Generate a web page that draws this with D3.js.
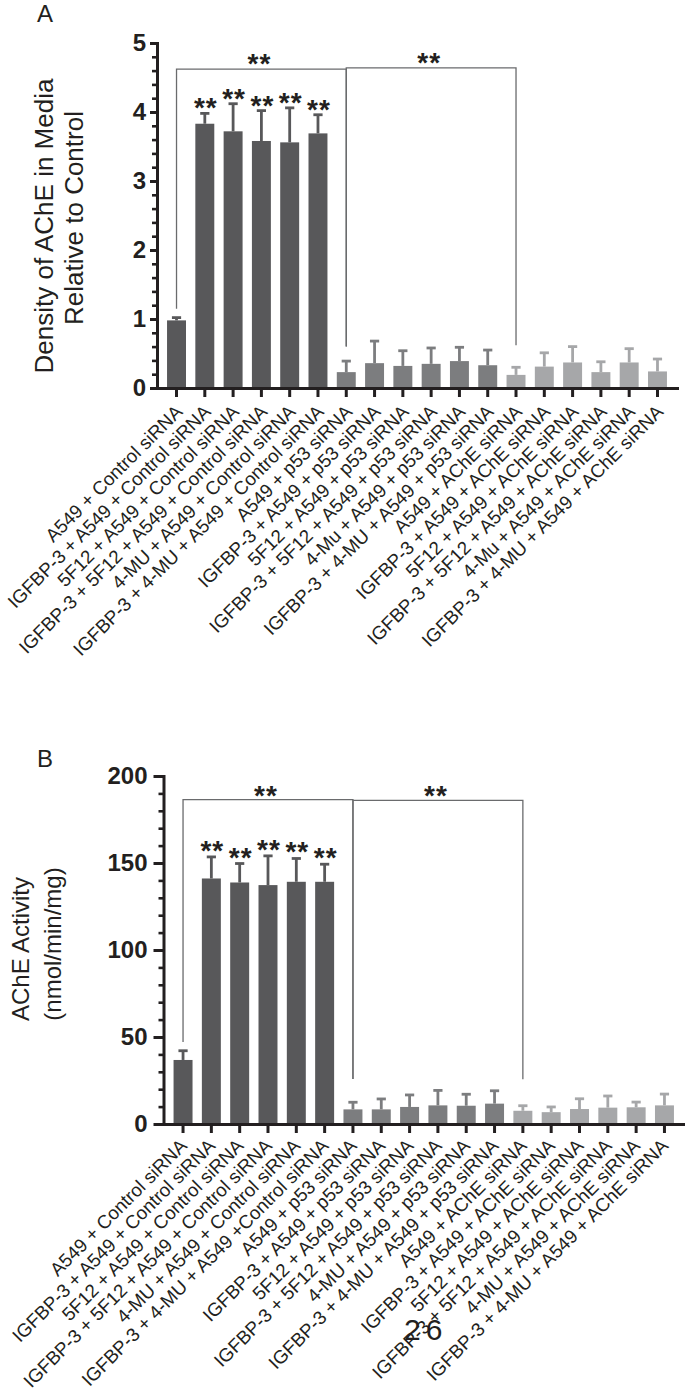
<!DOCTYPE html>
<html><head><meta charset="utf-8">
<script src="https://cdn.jsdelivr.net/npm/d3@7"></script>
<style>
body{margin:0;background:#fff}
svg{display:block}
text{font-family:"Liberation Sans",Arial,Helvetica,sans-serif;fill:#231f20}
</style>
</head><body>
<svg id="chart" width="685" height="1399"></svg>
<script>
// ---------------- data ----------------
const categoriesA = [
  "A549 + Control siRNA",
  "IGFBP-3 + A549 + Control siRNA",
  "5F12 + A549 + Control siRNA",
  "IGFBP-3 + 5F12 + A549 + Control siRNA",
  "4-MU + A549 + Control siRNA",
  "IGFBP-3 + 4-MU + A549 + Control siRNA",
  "A549 + p53 siRNA",
  "IGFBP-3 + A549 + p53 siRNA",
  "5F12 + A549 + p53 siRNA",
  "IGFBP-3 + 5F12 + A549 + p53 siRNA",
  "4-Mu + A549 + p53 siRNA",
  "IGFBP-3 + 4-MU + A549 + p53 siRNA",
  "A549 + AChE siRNA",
  "IGFBP-3 + A549 + AChE siRNA",
  "5F12 + A549 + AChE siRNA",
  "IGFBP-3 + 5F12 + A549 + AChE siRNA",
  "4-Mu + A549 + AChE siRNA",
  "IGFBP-3 + 4-MU + A549 + AChE siRNA"
];
const categoriesB = [
  "A549 + Control siRNA",
  "IGFBP-3 + A549 + Control siRNA",
  "5F12 + A549 + Control siRNA",
  "IGFBP-3 + 5F12 + A549 + Control siRNA",
  "4-MU + A549 + Control siRNA",
  "IGFBP-3 + 4-MU + A549 +Control siRNA",
  "A549 + p53 siRNA",
  "IGFBP-3 + A549 + p53 siRNA",
  "5F12 + A549 + p53 siRNA",
  "IGFBP-3 + 5F12 + A549 + p53 siRNA",
  "4-MU + A549 + p53 siRNA",
  "IGFBP-3 + 4-MU + A549 + p53 siRNA",
  "A549 + AChE siRNA",
  "IGFBP-3 + A549 + AChE siRNA",
  "5F12 + A549 + AChE siRNA",
  "IGFBP-3 + 5F12 + A549 + AChE siRNA",
  "4-MU + A549 + AChE siRNA",
  "IGFBP-3 + 4-MU + A549 + AChE siRNA"
];
const groupOf = [0,0,0,0,0,0,1,1,1,1,1,1,2,2,2,2,2,2];

const meanA  = [0.98, 3.83, 3.72, 3.58, 3.56, 3.69, 0.23, 0.36, 0.32, 0.35, 0.39, 0.33, 0.19, 0.31, 0.37, 0.23, 0.37, 0.24];
const upperA = [1.02, 3.98, 4.12, 4.02, 4.06, 3.96, 0.39, 0.68, 0.54, 0.58, 0.59, 0.55, 0.30, 0.51, 0.60, 0.38, 0.57, 0.42];

const meanB  = [36.8, 141.1, 138.8, 137.3, 139.2, 139.2, 8.4, 8.4, 9.8, 10.7, 10.5, 11.7, 7.6, 6.8, 8.6, 9.4, 9.6, 10.7];
const upperB = [42.1, 153.5, 149.7, 154.1, 152.6, 149.3, 12.5, 14.4, 16.7, 19.3, 17.1, 19.1, 10.5, 9.8, 14.5, 16.1, 12.6, 17.2];

const yTicksA = [0, 1, 2, 3, 4, 5];
const yTicksB = [0, 50, 100, 150, 200];
const starredBars = [1, 2, 3, 4, 5];
// [from index, to index, top value, left leg end value, right leg end value]
const bracketsA = [[0, 6, 4.62, 1.15, 0.60], [6, 12, 4.64, 0.60, 0.62]];
const bracketsB = [[0, 6, 186.4, 47.1, 25.9], [6, 12, 186.0, 25.9, 25.7]];
const groupColors = ["#58585a", "#7c7d7f", "#a6a7a9"];

// ---------------- drawing ----------------
const svg = d3.select("#chart");

function drawPanel(o) {
  const g = svg.append("g");
  const x = d3.scaleBand().domain(o.cats).range(o.xRange).paddingInner(0.33).paddingOuter(0.355);
  const y = d3.scaleLinear().domain(o.yDomain).range(o.yRange);
  const cx = c => x(c) + x.bandwidth() / 2;

  // brackets
  o.brackets.forEach(b => {
    const x0 = cx(o.cats[b[0]]), x1 = cx(o.cats[b[1]]);
    g.append("path")
      .attr("d", `M${x0},${y(b[3])}V${y(b[2])}H${x1}V${y(b[4])}`)
      .attr("fill", "none").attr("stroke", "#6a6b6d").attr("stroke-width", 1.3);
    g.append("text").attr("x", (x0 + x1) / 2 - 2).attr("y", y(b[2]) + o.bracketStarShift)
      .attr("text-anchor", "middle").attr("font-size", 28).attr("font-weight", "bold")
      .attr("letter-spacing", 1).text("**");
  });

  // bars
  g.selectAll("rect.bar").data(o.cats).join("rect").attr("class", "bar")
    .attr("x", c => x(c)).attr("width", x.bandwidth())
    .attr("y", (c, i) => y(o.mean[i])).attr("height", (c, i) => y(0) - y(o.mean[i]))
    .attr("fill", (c, i) => groupColors[groupOf[i]]);

  // error bars
  const eb = g.selectAll("g.err").data(o.cats).join("g").attr("class", "err")
    .attr("stroke", (c, i) => groupColors[groupOf[i]]).attr("stroke-width", 2.8);
  eb.append("line").attr("x1", cx).attr("x2", cx)
    .attr("y1", (c, i) => y(o.mean[i])).attr("y2", (c, i) => y(o.upper[i]));
  eb.append("line").attr("x1", c => cx(c) - 4.6).attr("x2", c => cx(c) + 4.6)
    .attr("y1", (c, i) => y(o.upper[i])).attr("y2", (c, i) => y(o.upper[i]));

  // stars over bars
  o.stars.forEach(i => {
    g.append("text").attr("x", cx(o.cats[i]) + 1).attr("y", y(o.upper[i]) + o.barStarShift)
      .attr("text-anchor", "middle").attr("font-size", 28).attr("font-weight", "bold")
      .attr("letter-spacing", 1).text("**");
  });

  // x axis
  const xa = g.append("g").attr("transform", `translate(0,${y(0)})`)
    .call(d3.axisBottom(x).tickSize(9).tickSizeOuter(0).tickFormat(""));
  xa.select(".domain").attr("stroke", "#231f20").attr("stroke-width", 3).attr("stroke-linecap", "square");
  xa.selectAll(".tick line").attr("stroke", "#231f20").attr("stroke-width", 3);

  // x labels
  g.selectAll("text.xl").data(o.cats).join("text").attr("class", "xl")
    .attr("transform", c => `translate(${cx(c) + o.labDx},${y(0) + o.labDy}) rotate(-45)`)
    .attr("text-anchor", "end").attr("font-size", 18.8).text(c => c);

  // y axis minor
  const ya2 = g.append("g").attr("transform", `translate(${o.xRange[0]},0)`)
    .call(d3.axisLeft(y).tickValues(d3.range(o.yDomain[0], o.yDomain[1] + 1e-9, o.minorStep)).tickSize(5).tickFormat(""));
  ya2.select(".domain").remove();
  ya2.selectAll(".tick line").attr("stroke", "#231f20").attr("stroke-width", 2.6);

  // y axis major
  const ya = g.append("g").attr("transform", `translate(${o.xRange[0]},0)`)
    .call(d3.axisLeft(y).tickValues(o.yTicks).tickFormat(d3.format("d"))
      .tickSize(o.majorLen).tickSizeOuter(0).tickPadding(o.tickPad));
  ya.select(".domain").attr("stroke", "#231f20").attr("stroke-width", 3).attr("stroke-linecap", "square");
  ya.selectAll(".tick line").attr("stroke", "#231f20").attr("stroke-width", 3);
  ya.selectAll(".tick text").attr("font-size", 24).attr("font-weight", "bold")
    .attr("font-family", '"Liberation Sans",Arial,sans-serif').attr("fill", "#231f20");

  // y title
  o.titleLines.forEach(t => {
    g.append("text").attr("transform", `translate(${t[1]},${t[2]}) rotate(-90)`)
      .attr("text-anchor", "middle").attr("font-size", t[3]).text(t[0]);
  });

  // panel letter
  g.append("text").attr("x", o.letter[1]).attr("y", o.letter[2]).attr("font-size", 24).text(o.letter[0]);
}

drawPanel({
  cats: categoriesA, mean: meanA, upper: upperA,
  yDomain: [0, 5], yRange: [388, 43], xRange: [157, 677],
  yTicks: yTicksA, minorStep: 0.2, majorLen: 7, tickPad: 4,
  stars: starredBars, brackets: bracketsA, barStarShift: 4, bracketStarShift: 4,
  labDx: 7, labDy: 25,
  titleLines: [["Density of AChE in Media", 53, 226, 26], ["Relative to Control", 83, 218, 26]],
  letter: ["A", 37, 22]
});

drawPanel({
  cats: categoriesB, mean: meanB, upper: upperB,
  yDomain: [0, 200], yRange: [1124, 776], xRange: [163.5, 684],
  yTicks: yTicksB, minorStep: 10, majorLen: 10, tickPad: 6,
  stars: starredBars, brackets: bracketsB, barStarShift: 3, bracketStarShift: 5,
  labDx: 5, labDy: 23,
  titleLines: [["AChE Activity", 29, 949, 24], ["(nmol/min/mg)", 61, 944, 24]],
  letter: ["B", 37, 767]
});

// overlaid page mark in the lower chart
svg.append("text").attr("x", 404).attr("y", 1340).attr("font-size", 30).attr("letter-spacing", 5).text("26");
</script>
</body></html>
